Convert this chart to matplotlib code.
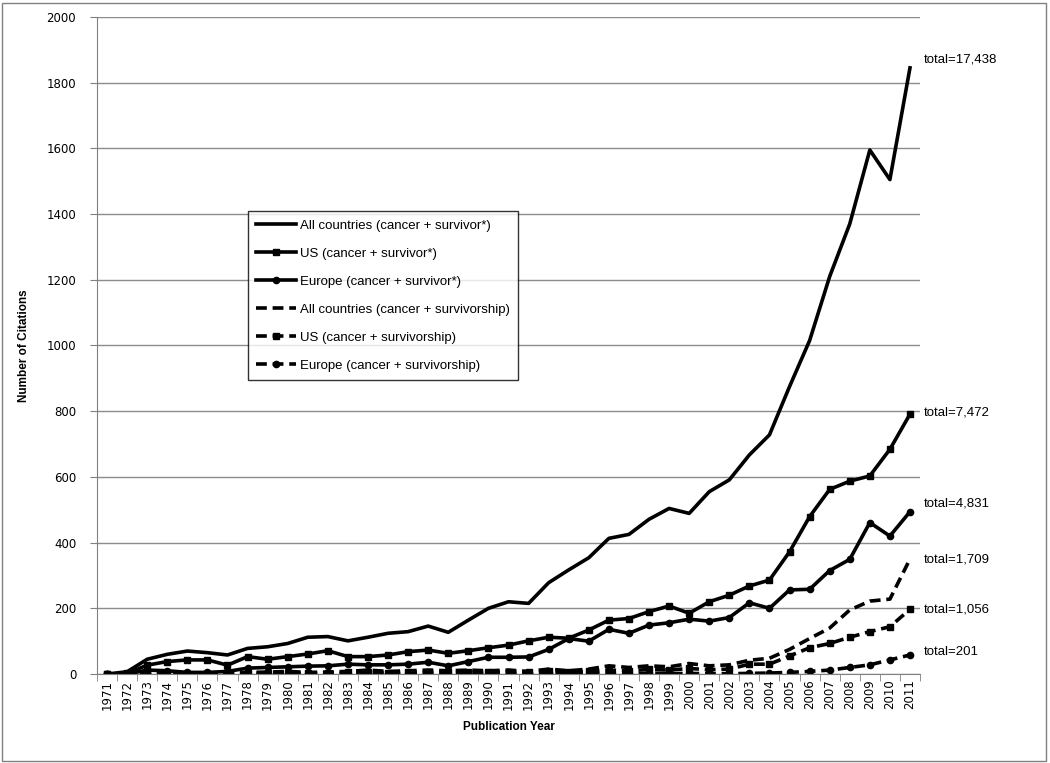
import matplotlib
matplotlib.use("Agg")
import matplotlib.pyplot as plt
from matplotlib.patches import Rectangle

years = list(range(1971, 2012))

# cancer + survivor*
all_survivor = [0, 7, 45, 60, 70, 65, 58, 78, 83, 93, 112, 114, 101, 112, 124, 129, 146, 127, 164, 200,
                220, 215, 278, 317, 354, 413, 425, 471, 504, 489, 555, 591, 667, 728, 875, 1015, 1210,
                1370, 1595, 1505, 1845]
us_survivor = [0, 2, 27, 38, 43, 43, 27, 53, 45, 53, 61, 71, 53, 53, 58, 68, 73, 63, 71, 80,
               88, 101, 112, 109, 134, 164, 169, 190, 207, 185, 220, 240, 268, 286, 372, 479, 562,
               587, 603, 684, 791]
eu_survivor = [0, 0, 12, 10, 5, 5, 8, 18, 20, 22, 24, 25, 30, 28, 28, 30, 36, 25, 38, 51,
               51, 52, 75, 108, 100, 136, 124, 149, 156, 167, 161, 172, 217, 200, 256, 258, 315,
               349, 461, 420, 494]

# cancer + survivorship
all_ship = [0, 0, 2, 2, 3, 2, 3, 5, 6, 8, 5, 6, 8, 12, 8, 10, 12, 10, 12, 10,
            12, 8, 15, 10, 15, 25, 20, 25, 22, 32, 25, 28, 42, 48, 75, 108, 140,
            195, 222, 228, 350]
us_ship = [0, 0, 1, 1, 1, 1, 2, 3, 3, 4, 3, 4, 5, 6, 4, 5, 6, 5, 6, 5,
           7, 5, 8, 6, 8, 12, 10, 14, 12, 17, 13, 15, 30, 30, 55, 80, 93,
           112, 129, 144, 197]
eu_ship = [0, 0, 0, 0, 0, 0, 0, 0, 0, 1, 0, 0, 1, 1, 0, 1, 1, 0, 1, 1,
           1, 0, 2, 1, 1, 2, 1, 2, 1, 2, 1, 1, 2, 3, 5, 8, 12,
           20, 28, 43, 58]

names = ["All countries (cancer + survivor*)", "US (cancer + survivor*)", "Europe (cancer + survivor*)",
         "All countries (cancer + survivorship)", "US (cancer + survivorship)",
         "Europe (cancer + survivorship)"]
totals = ["total=17,438", "total=7,472", "total=4,831", "total=1,709", "total=1,056", "total=201"]

series = [all_survivor, us_survivor, eu_survivor, all_ship, us_ship, eu_ship]
markers = [None, "s", "o", None, "s", "o"]
solid = "-"
dashed = (0, (3, 1.6))
styles = [solid, solid, solid, dashed, dashed, dashed]
label_dy = [6, 1, 6, 0, 0, 2]

txt_font = ["Liberation Sans", "DejaVu Sans"]

fig = plt.figure(figsize=(10.5, 7.63), dpi=100)
ax = fig.add_axes([0.0924, 0.1166, 0.7838, 0.8612])

x = list(range(len(years)))
for s, m, ls, nm in zip(series, markers, styles, names):
    ax.plot(x, s, color="black", lw=2.6, linestyle=ls, marker=m, markersize=4.5,
            label=nm, solid_joinstyle="round")

for s, t, dy in zip(series, totals, label_dy):
    ax.annotate(t, xy=(x[-1], s[-1]), xytext=(10, dy), textcoords="offset points",
                fontsize=9.5, va="center", ha="left", family=txt_font,
                annotation_clip=False)

ax.set_xlim(-0.5, len(years) - 0.5)
ax.set_ylim(0, 2000)
ax.set_yticks(range(0, 2001, 200))
ax.tick_params(axis="y", labelsize=8.5, direction="out", length=5, color="gray", pad=10)
ax.set_xticks(x)
ax.set_xticklabels([str(y) for y in years], rotation=90, fontsize=8.5)
ax.tick_params(axis="x", which="major", length=0, pad=4)
ax.set_xticks([i - 0.5 for i in range(len(years) + 1)], minor=True)
ax.tick_params(axis="x", which="minor", length=5, direction="out", color="gray")
ax.yaxis.grid(True, color="#8c8c8c", lw=1)
ax.set_axisbelow(True)
for side in ["top", "right"]:
    ax.spines[side].set_visible(False)
for side in ["left", "bottom"]:
    ax.spines[side].set_color("gray")

ax.set_ylabel("Number of Citations", fontsize=8.5, fontweight="bold", labelpad=12, family=txt_font)
ax.set_xlabel("Publication Year", fontsize=8.5, fontweight="bold", labelpad=8, family=txt_font)

leg = ax.legend(loc="upper left", bbox_to_anchor=(0.176, 0.714), frameon=True,
                fancybox=False, edgecolor="black", handlelength=3.0, labelspacing=1.2,
                borderpad=0.6, handletextpad=0.3,
                prop={"family": txt_font, "size": 9.5})
leg.get_frame().set_linewidth(1)

fig.patches.append(Rectangle((0.002, 0.003), 0.994, 0.993, transform=fig.transFigure,
                             fill=False, edgecolor="gray", lw=1))

fig.savefig("out.png", dpi=100)
